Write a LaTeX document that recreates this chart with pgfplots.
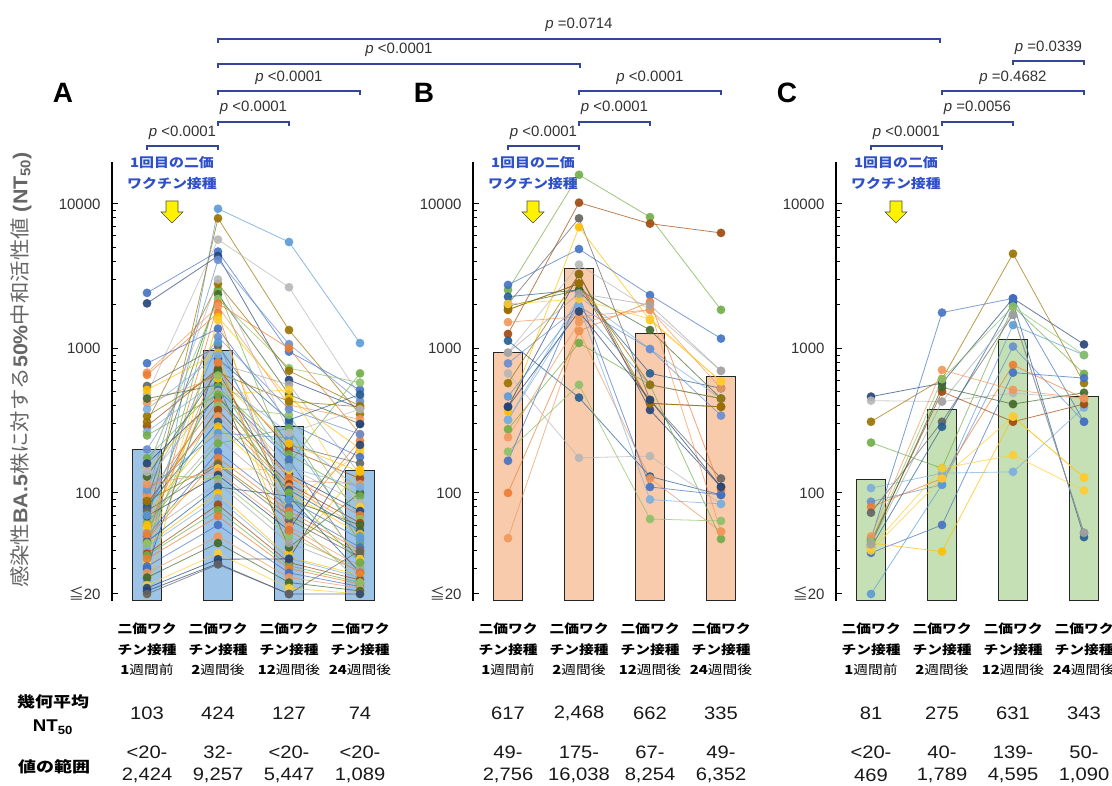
\documentclass[border=0pt]{standalone}
\usepackage{fontspec}
\setmainfont{Liberation Sans}
\newfontfamily\cjk{Noto Sans CJK JP}
\usepackage{graphicx}
\usepackage{pgfplots}
\pgfplotsset{compat=1.18}

\definecolor{c1}{HTML}{4472C4}
\definecolor{c2}{HTML}{ED7D31}
\definecolor{c3}{HTML}{A5A5A5}
\definecolor{c4}{HTML}{FFC000}
\definecolor{c5}{HTML}{5B9BD5}
\definecolor{c6}{HTML}{70AD47}
\definecolor{c7}{HTML}{264478}
\definecolor{c8}{HTML}{9E480E}
\definecolor{c9}{HTML}{636363}
\definecolor{c10}{HTML}{997300}
\definecolor{c11}{HTML}{255E91}
\definecolor{c12}{HTML}{43682B}
\definecolor{c13}{HTML}{698ED0}
\definecolor{c14}{HTML}{F1975A}
\definecolor{c15}{HTML}{B7B7B7}
\definecolor{c16}{HTML}{FFCD33}
\definecolor{c17}{HTML}{7CAFDD}
\definecolor{c18}{HTML}{8CC168}
\definecolor{barA}{HTML}{9DC3E6}
\definecolor{barB}{HTML}{F8CBAD}
\definecolor{barC}{HTML}{C5E0B4}
\definecolor{pblue}{HTML}{34469C}
\definecolor{note}{HTML}{3050C8}

\newcommand{\sx}[2][1.12]{\scalebox{#1}[1]{#2}}
\newcommand{\cat}[3]{\scalebox{1.18}[1]{\cjk\fontsize{12.5}{20.5}\selectfont\begin{tabular}{@{}c@{}}\textbf{#1}\\\textbf{#2}\\#3\end{tabular}}}

\pgfplotsset{
  subj/.style={draw=#1, line width=0.8pt, draw opacity=0.7, mark=*, mark size=4pt,
    mark options={fill=#1, draw=none, fill opacity=0.9}},
  barplot/.style={ybar, bar width=29pt, fill=#1, draw=black!85, line width=0.8pt, mark=none},
}

\begin{document}
\begin{tikzpicture}
\path[use as bounding box] (0,0) rectangle (1112pt,786pt);

% ---------------- A
\begin{axis}[
    at={(112pt,185.4pt)}, anchor=south west,
    scale only axis, width=276.4pt, height=438.6pt,
    ymode=log, ymin=18, ymax=19500, xmin=-0.493, xmax=3.4,
    axis y line*=left, axis x line=none, xtick=\empty,
    ytick={20,100,1000,10000},
    yticklabels={{\cjk ≦}20,100,1000,10000},
    minor ytick={30,40,50,60,70,80,90,200,300,400,500,600,700,800,900,2000,3000,4000,5000,6000,7000,8000,9000},
    y axis line style={line width=1.4pt, black},
    tick style={black, line width=1pt},
    major tick length=6pt, minor tick length=4pt,
    yticklabel style={font=\fontsize{15}{15}\selectfont, text=black!80, xshift=-8pt},
    log origin=infty,
  ]
\addplot[barplot=barA] coordinates {(0,201)(1,970)(2,291)(3,144)};
\addplot[subj=c5] coordinates {(0,25)(1,9257)(2,5447)(3,1089)};
\addplot[subj=c10] coordinates {(0,60)(1,7950)(2,1340)(3,350)};
\addplot[subj=c15] coordinates {(0,480)(1,5660)(2,2650)(3,465)};
\addplot[subj=c1] coordinates {(0,2424)(1,4680)(2,950)(3,517)};
\addplot[subj=c7] coordinates {(0,2050)(1,4360)(2,605)(3,385)};
\addplot[subj=c13] coordinates {(0,100)(1,4100)(2,1070)(3,430)};
\addplot[subj=c6] coordinates {(0,45)(1,2540)(2,160)(3,672)};
\addplot[subj=c12] coordinates {(0,90)(1,2370)(2,480)(3,300)};
\addplot[subj=c18] coordinates {(0,150)(1,2200)(2,730)(3,580)};
\addplot[subj=c2] coordinates {(0,40)(1,2050)(2,1000)(3,255)};
\addplot[subj=c14] coordinates {(0,680)(1,1950)(2,406)(3,323)};
\addplot[subj=c2] coordinates {(0,656)(1,1760)(2,60)(3,230)};
\addplot[subj=c4] coordinates {(0,20)(1,1650)(2,452)(3,203)};
\addplot[subj=c16] coordinates {(0,33)(1,1570)(2,85)(3,190)};
\addplot[subj=c1] coordinates {(0,790)(1,1370)(2,304)(3,177)};
\addplot[subj=c9] coordinates {(0,550)(1,1040)(2,215)(3,160)};
\addplot[subj=c4] coordinates {(0,517)(1,930)(2,38)(3,145)};
\addplot[subj=c11] coordinates {(0,30)(1,850)(2,320)(3,480)};
\addplot[subj=c3] coordinates {(0,110)(1,790)(2,560)(3,135)};
\addplot[subj=c8] coordinates {(0,290)(1,720)(2,200)(3,126)};
\addplot[subj=c10] coordinates {(0,340)(1,680)(2,430)(3,395)};
\addplot[subj=c14] coordinates {(0,420)(1,640)(2,123)(3,115)};
\addplot[subj=c17] coordinates {(0,265)(1,600)(2,260)(3,105)};
\addplot[subj=c12] coordinates {(0,450)(1,560)(2,42)(3,100)};
\addplot[subj=c6] coordinates {(0,174)(1,540)(2,185)(3,95)};
\addplot[subj=c1] coordinates {(0,78)(1,517)(2,170)(3,33)};
\addplot[subj=c15] coordinates {(0,123)(1,500)(2,150)(3,85)};
\addplot[subj=c16] coordinates {(0,144)(1,480)(2,517)(3,80)};
\addplot[subj=c7] coordinates {(0,160)(1,460)(2,135)(3,75)};
\addplot[subj=c2] coordinates {(0,98)(1,430)(2,128)(3,70)};
\addplot[subj=c18] coordinates {(0,55)(1,400)(2,347)(3,66)};
\addplot[subj=c8] coordinates {(0,85)(1,375)(2,115)(3,62)};
\addplot[subj=c14] coordinates {(0,95)(1,340)(2,110)(3,58)};
\addplot[subj=c11] coordinates {(0,80)(1,311)(2,105)(3,55)};
\addplot[subj=c4] coordinates {(0,72)(1,288)(2,100)(3,52)};
\addplot[subj=c5] coordinates {(0,105)(1,260)(2,240)(3,50)};
\addplot[subj=c3] coordinates {(0,66)(1,240)(2,90)(3,48)};
\addplot[subj=c6] coordinates {(0,62)(1,220)(2,280)(3,45)};
\addplot[subj=c1] coordinates {(0,50)(1,193)(2,80)(3,42)};
\addplot[subj=c2] coordinates {(0,48)(1,175)(2,75)(3,40)};
\addplot[subj=c10] coordinates {(0,88)(1,160)(2,70)(3,38)};
\addplot[subj=c9] coordinates {(0,75)(1,156)(2,65)(3,36)};
\addplot[subj=c16] coordinates {(0,57)(1,148)(2,144)(3,35)};
\addplot[subj=c14] coordinates {(0,115)(1,140)(2,58.5)(3,31)};
\addplot[subj=c7] coordinates {(0,69)(1,133)(2,55)(3,300)};
\addplot[subj=c18] coordinates {(0,135)(1,125)(2,50)(3,30)};
\addplot[subj=c3] coordinates {(0,53)(1,117)(2,45)(3,29)};
\addplot[subj=c11] coordinates {(0,46)(1,110)(2,95)(3,28)};
\addplot[subj=c4] coordinates {(0,44)(1,100)(2,36)(3,27)};
\addplot[subj=c17] coordinates {(0,42.5)(1,92)(2,35.3)(3,26)};
\addplot[subj=c8] coordinates {(0,38)(1,83)(2,33)(3,25)};
\addplot[subj=c6] coordinates {(0,37)(1,76)(2,31.4)(3,24)};
\addplot[subj=c2] coordinates {(0,35)(1,69)(2,30)(3,23.4)};
\addplot[subj=c1] coordinates {(0,31)(1,60)(2,28)(3,22.5)};
\addplot[subj=c14] coordinates {(0,28)(1,50)(2,26)(3,22)};
\addplot[subj=c12] coordinates {(0,26)(1,45)(2,24)(3,21)};
\addplot[subj=c16] coordinates {(0,23)(1,38.2)(2,22)(3,20)};
\addplot[subj=c7] coordinates {(0,22)(1,34.8)(2,35)(3,215)};
\addplot[subj=c7] coordinates {(0,21)(1,32.5)(2,20)(3,20)};
\addplot[subj=c9] coordinates {(0,20)(1,32)(2,20)(3,40)};
\addplot[subj=c13] coordinates {(0,200)(1,1200)(2,380)(3,255)};
\addplot[subj=c17] coordinates {(0,380)(1,900)(2,150)(3,110)};
\addplot[subj=c12] coordinates {(0,130)(1,700)(2,90)(3,60)};
\addplot[subj=c4] coordinates {(0,60)(1,620)(2,220)(3,140)};
\addplot[subj=c6] coordinates {(0,250)(1,480)(2,100)(3,33)};
\addplot[subj=c10] coordinates {(0,310)(1,2800)(2,700)(3,400)};
\addplot[subj=c15] coordinates {(0,140)(1,3000)(2,260)(3,380)};
\addplot[subj=c5] coordinates {(0,70)(1,1100)(2,90)(3,48)};
\addplot[subj=c2] coordinates {(0,52)(1,800)(2,55)(3,28)};
\addplot[subj=c18] coordinates {(0,45)(1,650)(2,70)(3,24)};
\end{axis}

% ---------------- B
\begin{axis}[
    at={(473pt,185.4pt)}, anchor=south west,
    scale only axis, width=276.4pt, height=438.6pt,
    ymode=log, ymin=18, ymax=19500, xmin=-0.493, xmax=3.4,
    axis y line*=left, axis x line=none, xtick=\empty,
    ytick={20,100,1000,10000},
    yticklabels={{\cjk ≦}20,100,1000,10000},
    minor ytick={30,40,50,60,70,80,90,200,300,400,500,600,700,800,900,2000,3000,4000,5000,6000,7000,8000,9000},
    y axis line style={line width=1.4pt, black},
    tick style={black, line width=1pt},
    major tick length=6pt, minor tick length=4pt,
    yticklabel style={font=\fontsize{15}{15}\selectfont, text=black!80, xshift=-8pt},
    log origin=infty,
  ]
\addplot[barplot=barB] coordinates {(0,943)(1,3566)(2,1264)(3,640)};
\addplot[subj=c6] coordinates {(0,2540)(1,15900)(2,8100)(3,1850)};
\addplot[subj=c8] coordinates {(0,1260)(1,10200)(2,7300)(3,6300)};
\addplot[subj=c9] coordinates {(0,2030)(1,7950)(2,440)(3,126)};
\addplot[subj=c4] coordinates {(0,366)(1,6900)(2,1570)(3,590)};
\addplot[subj=c1] coordinates {(0,2750)(1,4870)(2,2340)(3,1170)};
\addplot[subj=c15] coordinates {(0,935)(1,3800)(2,1850)(3,700)};
\addplot[subj=c7] coordinates {(0,395)(1,3270)(2,375)(3,110)};
\addplot[subj=c8] coordinates {(0,1850)(1,2810)(2,417)(3,395)};
\addplot[subj=c11] coordinates {(0,2280)(1,2540)(2,672)(3,530)};
\addplot[subj=c17] coordinates {(0,320)(1,2280)(2,990)(3,450)};
\addplot[subj=c11] coordinates {(0,1130)(1,457)(2,130)(3,97)};
\addplot[subj=c2] coordinates {(0,100)(1,1320)(2,2100)(3,105)};
\addplot[subj=c14] coordinates {(0,48.6)(1,1320)(2,126)(3,54)};
\addplot[subj=c6] coordinates {(0,276)(1,1090)(2,560)(3,48)};
\addplot[subj=c18] coordinates {(0,193)(1,560)(2,66)(3,64)};
\addplot[subj=c15] coordinates {(0,672)(1,175)(2,180)(3,84)};
\addplot[subj=c12] coordinates {(0,1960)(1,2540)(2,1340)(3,450)};
\addplot[subj=c14] coordinates {(0,1520)(1,1660)(2,1850)(3,530)};
\addplot[subj=c13] coordinates {(0,788)(1,1950)(2,990)(3,343)};
\addplot[subj=c5] coordinates {(0,465)(1,1950)(2,560)(3,450)};
\addplot[subj=c10] coordinates {(0,575)(1,3270)(2,417)(3,395)};
\addplot[subj=c1] coordinates {(0,167)(1,2280)(2,110)(3,97)};
\addplot[subj=c14] coordinates {(0,243)(1,1520)(2,1850)(3,54)};
\addplot[subj=c10] coordinates {(0,1850)(1,2810)(2,560)(3,450)};
\addplot[subj=c17] coordinates {(0,320)(1,1950)(2,90)(3,84)};
\addplot[subj=c16] coordinates {(0,2030)(1,2200)(2,1600)(3,590)};
\addplot[subj=c3] coordinates {(0,935)(1,2400)(2,2000)(3,700)};
\addplot[subj=c7] coordinates {(0,395)(1,1800)(2,440)(3,110)};
\end{axis}

% ---------------- C
\begin{axis}[
    at={(836pt,185.4pt)}, anchor=south west,
    scale only axis, width=276.4pt, height=438.6pt,
    ymode=log, ymin=18, ymax=19500, xmin=-0.493, xmax=3.4,
    axis y line*=left, axis x line=none, xtick=\empty,
    ytick={20,100,1000,10000},
    yticklabels={{\cjk ≦}20,100,1000,10000},
    minor ytick={30,40,50,60,70,80,90,200,300,400,500,600,700,800,900,2000,3000,4000,5000,6000,7000,8000,9000},
    y axis line style={line width=1.4pt, black},
    tick style={black, line width=1pt},
    major tick length=6pt, minor tick length=4pt,
    yticklabel style={font=\fontsize{15}{15}\selectfont, text=black!80, xshift=-8pt},
    log origin=infty,
  ]
\addplot[barplot=barC] coordinates {(0,124)(1,380)(2,1155)(3,464)};
\addplot[subj=c7] coordinates {(0,464)(1,575)(2,2220)(3,1066)};
\addplot[subj=c15] coordinates {(0,435)(1,429)(2,490)(3,451)};
\addplot[subj=c10] coordinates {(0,311)(1,612)(2,4520)(3,575)};
\addplot[subj=c6] coordinates {(0,223)(1,148)(2,1950)(3,667)};
\addplot[subj=c17] coordinates {(0,108)(1,137)(2,140)(3,390)};
\addplot[subj=c13] coordinates {(0,87)(1,114)(2,1030)(3,311)};
\addplot[subj=c2] coordinates {(0,80)(1,126)(2,768)(3,451)};
\addplot[subj=c9] coordinates {(0,73)(1,311)(2,1710)(3,53)};
\addplot[subj=c8] coordinates {(0,46)(1,502)(2,311)(3,412)};
\addplot[subj=c12] coordinates {(0,44)(1,538)(2,412)(3,494)};
\addplot[subj=c11] coordinates {(0,42)(1,287)(2,2080)(3,49.5)};
\addplot[subj=c1] coordinates {(0,38.5)(1,60)(2,680)(3,623)};
\addplot[subj=c5] coordinates {(0,20)(1,114)(2,1450)(3,900)};
\addplot[subj=c4] coordinates {(0,45)(1,39.3)(2,337)(3,128)};
\addplot[subj=c1] coordinates {(0,48)(1,1770)(2,2220)(3,311)};
\addplot[subj=c14] coordinates {(0,50)(1,710)(2,517)(3,451)};
\addplot[subj=c16] coordinates {(0,42)(1,148)(2,183)(3,104)};
\addplot[subj=c18] coordinates {(0,46)(1,612)(2,1950)(3,900)};
\addplot[subj=c16] coordinates {(0,40)(1,126)(2,337)(3,128)};
\addplot[subj=c3] coordinates {(0,44)(1,429)(2,1710)(3,53)};
\end{axis}

% ---------------- annotations (pixel grid, y downwards)
\begin{scope}[x=1pt, y=-1pt, shift={(0pt,786pt)}]
  \tikzset{
    brk/.style={pblue, line width=1.2pt},
    ptx/.style={font=\fontsize{15}{15}\selectfont, text=black!80, inner sep=0pt},
  }
  % significance brackets
  \foreach \xa/\xb/\yy/\ly/\lab in {
      218/940/39/25/{=0.0714},
      218/580/64/50/{<0.0001},
      218/360/91/78/{<0.0001},
      218/289/122/108/{<0.0001},
      147/218/146/133/{<0.0001},
      508/579/146/133/{<0.0001},
      579/650/122/108/{<0.0001},
      579/721/91/78/{<0.0001},
      871/942/146/133/{<0.0001},
      942/1013/122/108/{=0.0056},
      942/1084/91/78/{=0.4682},
      1013/1084/61/48/{=0.0339}} {
    \draw[brk] (\xa,\yy+4) -- (\xa,\yy) -- (\xb,\yy) -- (\xb,\yy+4);
    \node[ptx] at ({(\xa+\xb)/2},\ly) {{\itshape p} \lab};
  }

  % panel letters
  \node[font=\bfseries\fontsize{28}{28}\selectfont] at (63,93) {A};
  \node[font=\bfseries\fontsize{28}{28}\selectfont] at (424,93) {B};
  \node[font=\bfseries\fontsize{28}{28}\selectfont] at (787,93) {C};

  % vaccination notes and arrows
  \foreach \ax in {172,533,896} {
    \node[text=note, inner sep=0pt] at (\ax,163) {\sx[1.15]{\cjk\bfseries\fontsize{13}{13}\selectfont 1回目の二価}};
    \node[text=note, inner sep=0pt] at (\ax,184) {\sx[1.15]{\cjk\bfseries\fontsize{13}{13}\selectfont ワクチン接種}};
    \draw[fill=yellow, draw=black!70, line width=0.6pt]
      (\ax-6,201) -- (\ax+6,201) -- (\ax+6,212) -- (\ax+11,212) -- (\ax,223)
      -- (\ax-11,212) -- (\ax-6,212) -- cycle;
  }

  % y label
  \node[rotate=90, text=black!60, inner sep=0pt] at (21,370)
    {\scalebox{1.07}[1]{\fontsize{20}{20}\selectfont{\cjk 感染性}\textbf{BA.5}{\cjk 株に対する}\textbf{50\%}{\cjk 中和活性値} \textbf{(NT\textsubscript{50})}}};

  % category labels
  \foreach \bx/\wk/\wtail in {147/1/前,218/2/後,289/12/後,360/24/後,
                          508/1/前,579/2/後,650/12/後,721/24/後,
                          871/1/前,942/2/後,1013/12/後,1084/24/後} {
    \node[inner sep=0pt] at (\bx,650) {\cat{二価ワク}{チン接種}{\textbf{\wk}週間\wtail}};
  }

  % row headers
  \node[inner sep=0pt] at (53,702) {\sx[1.2]{\cjk\bfseries\fontsize{15}{15}\selectfont 幾何平均}};
  \node[inner sep=0pt] at (53,727) {\sx[1.1]{\bfseries\fontsize{17}{17}\selectfont NT\textsubscript{50}}};
  \node[inner sep=0pt] at (54,767) {\sx[1.2]{\cjk\bfseries\fontsize{15}{15}\selectfont 値の範囲}};

  % geometric means and ranges
  \tikzset{num/.style={inner sep=0pt, font=\fontsize{18}{18}\selectfont, text=black!90}}
  \foreach \bx/\gm/\vlo/\vhi in {147/103/<20-/{2,424},218/424/32-/{9,257},289/127/<20-/{5,447},360/74/<20-/{1,089},
                              508/617/49-/{2,756},579/{2,468}/175-/{16,038},650/662/67-/{8,254},721/335/49-/{6,352},
                              871/81/<20-/469,942/275/40-/{1,789},1013/631/139-/{4,595},1084/343/50-/{1,090}} {
    \node[num] at (\bx,713) {\sx{\gm}};
    \node[num] at (\bx,752) {\sx{\vlo}};
    \node[num] at (\bx,775) {\sx{\vhi}};
  }
\end{scope}
\end{tikzpicture}
\end{document}
